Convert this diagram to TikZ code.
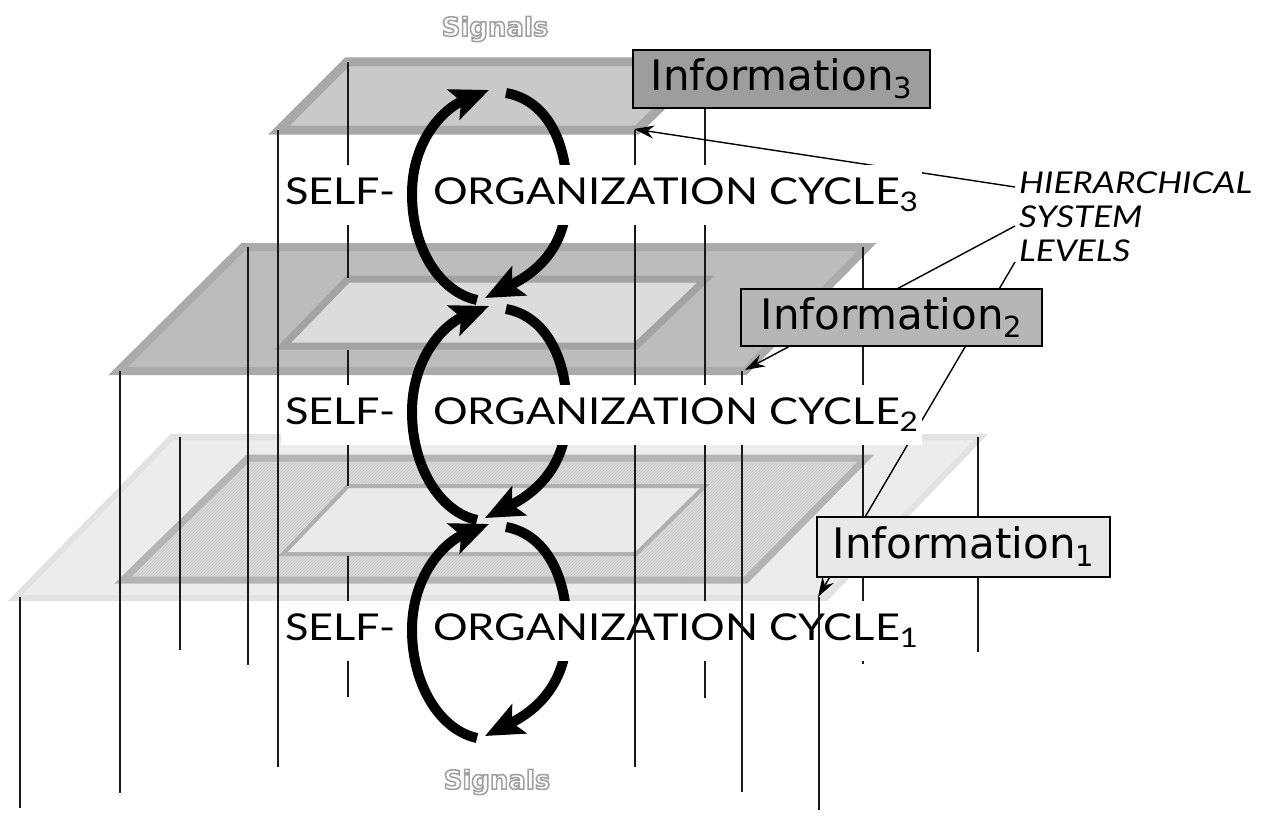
\documentclass[tikz,border=0pt]{standalone}
\usepackage{fontspec}
\setmainfont{Lato}
\newfontfamily\cycfont{Lato}[FakeStretch=1.17]
\newfontfamily\dvs{DejaVu Sans}
\usetikzlibrary{arrows.meta,patterns}
\definecolor{cAout}{HTML}{ECECEC}
\definecolor{cAoutr}{HTML}{E2E2E2}
\definecolor{cAmid}{HTML}{DADADA}
\definecolor{cAhatch}{HTML}{C6C6C6}
\definecolor{cAmidr}{HTML}{B4B4B4}
\definecolor{cAin}{HTML}{EAEAEA}
\definecolor{cAinr}{HTML}{B0B0B0}
\definecolor{cBout}{HTML}{BCBCBC}
\definecolor{cBoutr}{HTML}{ABABAB}
\definecolor{cBin}{HTML}{DCDCDC}
\definecolor{cBinr}{HTML}{A3A3A3}
\definecolor{cCin}{HTML}{C9C9C9}
\definecolor{cCr}{HTML}{A8A8A8}
\definecolor{infoC}{HTML}{9D9D9D}
\definecolor{infoB}{HTML}{B6B6B6}
\definecolor{infoA}{HTML}{E8E8E8}
\definecolor{sigc}{HTML}{A0A0A0}
\newcommand\cycsub[1]{\raisebox{-7pt}{\fontsize{27}{27}\selectfont #1}}
\newcommand\infsub[1]{\raisebox{-8pt}{\fontsize{29}{29}\selectfont #1}}
\newcommand\outl[1]{\special{pdf:literal 1 Tr 1.6 w 0.63 G}#1\special{pdf:literal 0 Tr 1 w 0 G}}
\begin{document}
\begin{tikzpicture}[x=1pt,y=-1pt,
  post/.style={draw=black!90, line width=1.3pt},
  ptr/.style={draw=black, line width=1.4pt, -{Stealth[length=20pt,width=13pt]}},
  cyc/.style={line width=10pt, -{Stealth[length=38pt,width=32pt,inset=8pt]}},
  band/.style={fill=white, inner xsep=4pt, inner ysep=0pt, text height=39pt, text depth=21pt, anchor=base west, font=\cycfont\fontsize{37}{40}\selectfont},
  infobox/.style={draw=black, line width=1.3pt, inner sep=0pt, font=\dvs\fontsize{42}{46}\selectfont},
  sig/.style={font=\dvs\bfseries\fontsize{26}{28}\selectfont, text=sigc},
  plate/.style={line join=miter}
]
\useasboundingbox (0,0) rectangle (1266,816);
% ---------- level 1 plates
\draw[plate, fill=cAout, draw=cAoutr, line width=6pt] (172,437) -- (981,437) -- (826,598) -- (15,598) -- cycle;
\fill[cAmid] (248,458) -- (866,458) -- (746,580) -- (123,580) -- cycle;
\fill[pattern=north east lines, pattern color=cAhatch] (248,458) -- (866,458) -- (746,580) -- (123,580) -- cycle;
\draw[plate, cAmidr, line width=7pt] (248,458) -- (866,458) -- (746,580) -- (123,580) -- cycle;
\draw[plate, fill=cAin, draw=cAinr, line width=4pt] (348,486) -- (705,486) -- (636,554) -- (283,554) -- cycle;
% ---------- level 2 plates
\draw[plate, fill=cBout, draw=cBoutr, line width=8pt] (243,247) -- (867,247) -- (745,371) -- (118,371) -- cycle;
\draw[plate, fill=cBin, draw=cBinr, line width=7pt] (348,279) -- (706,279) -- (636,346) -- (283,346) -- cycle;
% ---------- level 3 plate
\draw[plate, fill=cCin, draw=cCr, line width=9pt] (347,62) -- (707,62) -- (637,130) -- (279,130) -- cycle;
% ---------- posts (behind texts)
\draw[post] (20,597) -- (20,808);
\draw[post] (120,371) -- (120,793);
\draw[post] (180,437) -- (180,650);
\draw[post] (248,247) -- (248,665);
\draw[post] (278,130) -- (278,767);
\draw[post] (348,62) -- (348,278);
\draw[post] (348,350) -- (348,486);
\draw[post] (348,556) -- (348,697);
\draw[post] (635,130) -- (635,449);
\draw[post] (705,62) -- (705,698);
\draw[post] (742,371) -- (742,449);
\draw[post] (863,247) -- (863,664);
\draw[post] (978,437) -- (978,652);
% ---------- right arcs of the cycles (behind texts)
\foreach \t/\b/\m in {90/298/194, 306/518/412, 524/736/630}{
  \draw[cyc] (506,\t+3) .. controls (545,\t+10) and (567,\m-55) .. (567,\m)
    .. controls (567,\m+55) and (535,\b-25) .. (485,\b);
}
% ---------- pointers from the level label
\coordinate (h1) at (1015,187);
\coordinate (h2) at (1015,226);
\coordinate (h3) at (1015,262);
\coordinate (k3) at (634,129);
\coordinate (k2) at (745,370);
\coordinate (k1) at (818,597);
\draw[ptr] (h1) -- (k3);
\draw[ptr] (h2) -- (k2);
\draw[ptr] (h3) -- (k1);
% ---------- cycle texts
\node[band] (t3) at (281,204) {\makebox[148pt][l]{SELF-}ORGANIZATION CYCLE\cycsub{3}};
\node[band] (t2) at (281,424) {\makebox[148pt][l]{SELF-}ORGANIZATION CYCLE\cycsub{2}};
\node[band] (t1) at (281,640) {\makebox[148pt][l]{SELF-}ORGANIZATION CYCLE\cycsub{1}};
% ---------- posts in front of the lowest text
\draw[post] (635,449) -- (635,767);
\draw[post] (742,449) -- (742,792);
\draw[post] (819,597) -- (819,810);
% ---------- information boxes
\node[infobox, fill=infoC, minimum width=297pt, minimum height=58pt] (i3) at (781.5,79) {Information\infsub{3}};
\node[infobox, fill=infoB, minimum width=301pt, minimum height=57pt] (i2) at (891.5,317.5) {Information\infsub{2}};
\node[infobox, fill=infoA, minimum width=293pt, minimum height=60pt] (i1) at (963.5,547) {Information\infsub{1}};
% ---------- left arcs of the cycles (in front)
\foreach \t/\b/\m in {90/298/194, 306/518/412, 524/736/630}{
  \draw[cyc] (477,\b+2) .. controls (440,\b-6) and (412,\m+55) .. (412,\m)
    .. controls (412,\m-55) and (445,\t+18) .. (489,\t);
}
% ---------- labels
\node[align=left, anchor=north west, inner sep=0pt, font=\cycfont\itshape\fontsize{30}{34}\selectfont] (hsl) at (1019,172) {HIERARCHICAL\\SYSTEM\\LEVELS};
\node[sig] (s3) at (495,29) {\outl{Signals}};
\node[sig] (s0) at (497,782) {\outl{Signals}};
\end{tikzpicture}
\end{document}
